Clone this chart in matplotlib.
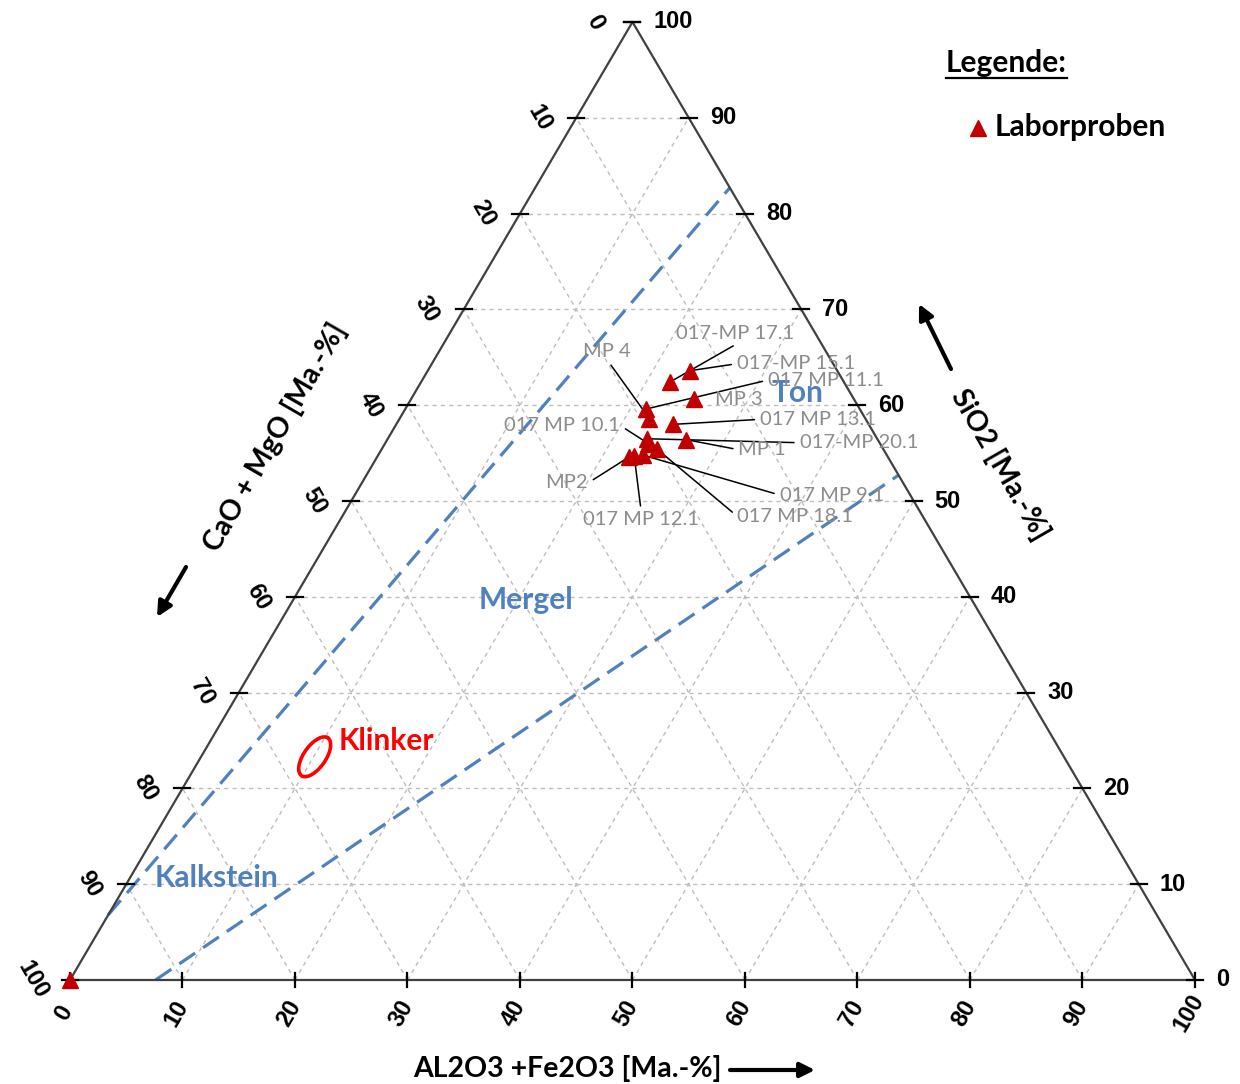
"""Ternary diagram CaO+MgO / SiO2 / Al2O3+Fe2O3 with lab samples"""

import numpy as np
import matplotlib
matplotlib.use('Agg')
import matplotlib.pyplot as plt
from matplotlib.lines import Line2D

# ---------------------------------------------------------------
# Data (mass-%)
sample_names = ["017-MP 17.1", "017-MP 15.1", "017 MP 11.1", "MP 4", "MP 3",
                "017 MP 13.1", "017 MP 10.1", "017-MP 20.1", "MP 1", "MP2",
                "017 MP 9.1", "017 MP 18.1", "017 MP 12.1", ""]
sio2 = [62.4, 63.6, 59.6, 58.6, 60.6, 58.0, 56.0, 56.5, 56.4, 54.6, 54.8, 55.4, 54.7, 0.0]
al2o3_fe2o3 = [22.1, 23.3, 21.4, 22.2, 25.2, 24.6, 23.4, 23.0, 26.6, 22.4, 23.5, 24.5, 22.8, 0.0]
cao_mgo = [15.5, 13.1, 19.0, 19.2, 14.2, 17.4, 20.6, 20.5, 17.0, 23.0, 21.7, 20.1, 22.5, 100.0]

# boundary lines (Al2O3+Fe2O3, SiO2)
kalk_mergel_al = [0.0, 17.3]
kalk_mergel_si = [6.8, 82.7]
mergel_ton_al = [7.6, 47.3]
mergel_ton_si = [0.0, 52.7]

# clinker field centre
klinker_al = 10.1
klinker_si = 23.3

ticks = list(range(0, 101, 10))

# ---------------------------------------------------------------
# layout
W, H = 1240, 1084
PXX, PXY = 11.25, 9.58      # pixels per unit in x and SiO2 direction
X0, Y0 = 70, 980            # pixel position of the CaO corner

label_layout = {
    "017-MP 17.1": ((65, 49), "center", (0.55, 0)),
    "017-MP 15.1": ((47, 7), "left", (0, 0.5)),
    "017 MP 11.1": ((122, 29), "left", (0, 0.5)),
    "MP 4": ((-42, 67), "center", (0.5, 0)),
    "MP 3": ((21, 0), "left", None),
    "017 MP 13.1": ((87, 5), "left", (0, 0.5)),
    "017 MP 10.1": ((-28, 18), "right", (1, 0.5)),
    "017-MP 20.1": ((153, -4), "left", (0, 0.5)),
    "MP 1": ((52, -10), "left", (0, 0.5)),
    "MP2": ((-41, -26), "right", (1, 0.5)),
    "017 MP 9.1": ((137, -40), "left", (0, 0.5)),
    "017 MP 18.1": ((80, -67), "left", (0, 0.5)),
    "017 MP 12.1": ((7, -64), "center", (0.5, 1)),
}

grid_col = "#BDBDBD"
edge_col = "#404040"
blue = "#4F81BD"
red = "#C00000"
gray_txt = "#8C8C8C"


def tern(a, s):
    """Al2O3 (a) and SiO2 (s) -> plot coordinates"""
    a = np.asarray(a, dtype=float)
    s = np.asarray(s, dtype=float)
    return a + s / 2.0, s


fig = plt.figure(figsize=(W / 100, H / 100), dpi=100)
ax = fig.add_axes([0, 0, 1, 1])
ax.set_xlim(-X0 / PXX, (W - X0) / PXX)
ax.set_ylim(-(H - Y0) / PXY, Y0 / PXY)
ax.axis('off')

# ---------------------------------------------------------------
# grid
for v in ticks[1:-1]:
    # SiO2 const
    x, y = tern([0, 100 - v], [v, v])
    ax.plot(x, y, color=grid_col, lw=1, ls=(0, (3, 3)), zorder=1)
    # Al2O3 const
    x, y = tern([v, v], [0, 100 - v])
    ax.plot(x, y, color=grid_col, lw=1, ls=(0, (3, 3)), zorder=1)
    # CaO const
    x, y = tern([100 - v, 0], [0, 100 - v])
    ax.plot(x, y, color=grid_col, lw=1, ls=(0, (3, 3)), zorder=1)

# triangle
x, y = tern([0, 100, 0, 0], [0, 0, 100, 0])
ax.plot(x, y, color=edge_col, lw=1.6, zorder=3)

# ticks
tl_x = 8 / PXX
tl_y = 7 / PXY
tick_font = dict(fontsize=17, fontweight='bold', family='Liberation Sans')
for v in ticks:
    # left edge (CaO)
    x, y = tern(0, 100 - v)
    ax.plot([x - tl_x, x + tl_x], [y, y], color='k', lw=1.6, zorder=3)
    ax.annotate(str(v), (x, y), xytext=(-37, 0), textcoords='offset pixels',
                rotation=-60, ha='center', va='center', **tick_font)
    # right edge (SiO2)
    x, y = tern(100 - v, v)
    ax.plot([x - tl_x, x + tl_x], [y, y], color='k', lw=1.6, zorder=3)
    ax.annotate(str(v), (x, y), xytext=(21, 0), textcoords='offset pixels',
                ha='left', va='center', **tick_font)
    # bottom edge (Al2O3)
    x, y = tern(v, 0)
    ax.plot([x, x], [y - tl_y, y + tl_y], color='k', lw=1.6, zorder=3)
    ax.annotate(str(v), (x, y), xytext=(-6, -33), textcoords='offset pixels',
                rotation=60, ha='center', va='center', **tick_font)

# boundary lines
x, y = tern(kalk_mergel_al, kalk_mergel_si)
ax.plot(x, y, color=blue, lw=2.3, ls=(0, (6, 3)), zorder=2)
x, y = tern(mergel_ton_al, mergel_ton_si)
ax.plot(x, y, color=blue, lw=2.3, ls=(0, (6, 3)), zorder=2)

# region labels
for name, a, s, col, ha in [("Ton", 34.0, 61.3, blue, 'center'),
                            ("Mergel", 20.7, 39.7, blue, 'center'),
                            ("Kalkstein", 7.7, 10.6, blue, 'center'),
                            ("Klinker", 11.4, 25.0, 'red', 'left')]:
    x, y = tern(a, s)
    ax.text(x, y, name, color=col, fontsize=21.5, fontweight='bold',
            family='Lato', ha=ha, va='center', zorder=4)

# clinker ellipse
t = np.linspace(0, 2 * np.pi, 200)
ra, rb, phi = 23, 11, np.deg2rad(55)
cx, cy = tern(klinker_al, klinker_si)
ex = cx + (ra * np.cos(t) * np.cos(phi) - rb * np.sin(t) * np.sin(phi)) / PXX
ey = cy + (ra * np.cos(t) * np.sin(phi) + rb * np.sin(t) * np.cos(phi)) / PXY
ax.plot(ex, ey, color='red', lw=2.6, zorder=4)

# samples
px, py = tern(al2o3_fe2o3, sio2)
ax.plot(px, py, ls='none', marker='^', ms=11, color=red, mec=red, zorder=6)

for name, xx, yy in zip(sample_names, px, py):
    if not name:
        continue
    off, ha, rel = label_layout[name]
    if rel is None:
        ax.annotate(name, (xx, yy), xytext=off, textcoords='offset pixels',
                    ha=ha, va='center', color=gray_txt, fontsize=14.5,
                    family='Lato', zorder=5)
    else:
        ax.annotate(name, (xx, yy), xytext=off, textcoords='offset pixels',
                    ha=ha, va='center', color=gray_txt, fontsize=14.5,
                    family='Lato', zorder=5,
                    arrowprops=dict(arrowstyle='-', color='k', lw=1.1,
                                    shrinkA=2, shrinkB=0, relpos=rel))

# axis titles
title_font = dict(fontsize=20.5, fontweight='bold', family='Lato')
ax.annotate("AL2O3 +Fe2O3 [Ma.-%]", (567, H - 1068), xycoords='figure pixels',
            ha='center', va='center', **title_font)
ax.annotate("CaO + MgO [Ma.-%]", (275, H - 437), xycoords='figure pixels',
            ha='center', va='center', rotation=60, **title_font)
ax.annotate("SiO2 [Ma.-%]", (1000, H - 465), xycoords='figure pixels',
            ha='center', va='center', rotation=-60, **title_font)

arrow = dict(arrowstyle='-|>', color='k', lw=3, mutation_scale=22,
             shrinkA=0, shrinkB=0)
ax.annotate('', xy=(815, H - 1070), xytext=(730, H - 1070),
            xycoords='figure pixels', arrowprops=arrow)
ax.annotate('', xy=(157, H - 617), xytext=(186, H - 567),
            xycoords='figure pixels', arrowprops=arrow)
ax.annotate('', xy=(919, H - 304), xytext=(951, H - 369),
            xycoords='figure pixels', arrowprops=arrow)

# legend
leg_title = fig.text(1006 / W, 1 - 63 / H, "Legende:", ha='center', va='center',
                     fontsize=21.5, fontweight='bold', family='Lato')
fig.text(995 / W, 1 - 127 / H, "Laborproben", ha='left', va='center',
         fontsize=21.5, fontweight='bold', family='Lato')
fig.add_artist(Line2D([978 / W], [1 - 128 / H], marker='^', ms=11, color=red,
                      transform=fig.transFigure))

fig.canvas.draw()
bb = leg_title.get_window_extent()
fig.add_artist(Line2D([bb.x0 / W, bb.x1 / W], [(bb.y0 - 1) / H, (bb.y0 - 1) / H],
                      color='k', lw=1.6, transform=fig.transFigure))

fig.savefig("out.png", dpi=100)
